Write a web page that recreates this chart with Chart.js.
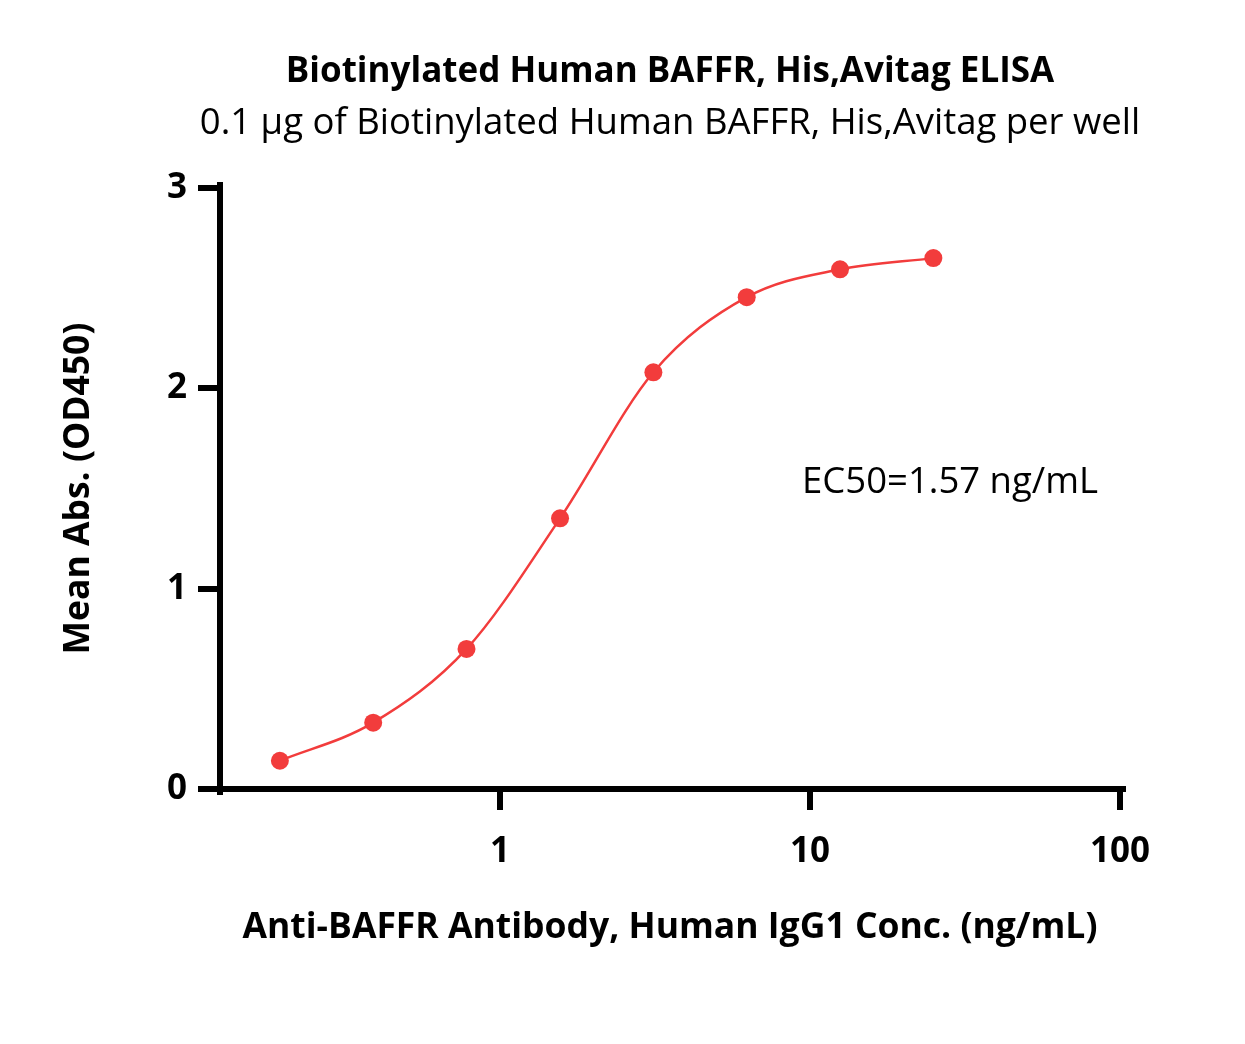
<!DOCTYPE html>
<html>
<head>
<meta charset="utf-8">
<script src="https://cdn.jsdelivr.net/npm/chart.js@4.4.1/dist/chart.umd.min.js"></script>
<style>
  html, body { margin: 0; padding: 0; background: #fff; }
  #wrap { width: 1245px; height: 1044px; }
</style>
</head>
<body>
<div id="wrap"><canvas id="elisaChart" width="1245" height="1044"></canvas></div>
<script>
// data
const concentrations = [0.195, 0.39, 0.78, 1.5625, 3.125, 6.25, 12.5, 25];
const meanAbs = [0.141, 0.331, 0.699, 1.351, 2.080, 2.455, 2.594, 2.650];
const xTicks = [1, 10, 100];
const yTicks = [0, 1, 2, 3];
const subtitleText = '0.1 μg of Biotinylated Human BAFFR, His,Avitag per well';
const ec50Label = 'EC50=1.57 ng/mL';
const ec50LabelAt = [28.3, 1.53]; // in data units (conc, OD)

const red = 'rgb(242, 60, 60)';

Chart.defaults.font.family = "'Open Sans'";
Chart.defaults.color = '#000';

// square caps so the axis lines and tick marks meet in clean corners
const squareCaps = {
  id: 'squareCaps',
  beforeDraw(chart) { chart.ctx.lineCap = 'square'; }
};

// subtitle is wider than the plot area, so the built-in one would squeeze it
const textPlugin = {
  id: 'extraText',
  afterDatasetsDraw(chart) {
    const { ctx, chartArea, scales: { x, y } } = chart;
    ctx.save();
    ctx.fillStyle = '#000';
    ctx.textAlign = 'center';
    ctx.textBaseline = 'middle';
    ctx.font = "36.5px 'Open Sans'";
    ctx.fillText(subtitleText, (chartArea.left + chartArea.right) / 2, chartArea.top - 64.5);
    ctx.fillText(ec50Label, x.getPixelForValue(ec50LabelAt[0]), y.getPixelForValue(ec50LabelAt[1]));
    ctx.restore();
  }
};

const ctx = document.getElementById('elisaChart').getContext('2d');
const chart = new Chart(ctx, {
  type: 'line',
  data: {
    datasets: [{
      data: concentrations.map((c, i) => ({ x: c, y: meanAbs[i] })),
      borderColor: red,
      backgroundColor: red,
      borderWidth: 2.5,
      pointRadius: 9,
      pointBorderWidth: 0,
      pointBackgroundColor: red,
      cubicInterpolationMode: 'monotone',
      fill: false
    }]
  },
  options: {
    responsive: false,
    devicePixelRatio: 1,
    animation: false,
    layout: { padding: { top: 0, right: 125, bottom: 0, left: 0 } },
    plugins: {
      legend: { display: false },
      tooltip: { enabled: false },
      title: {
        display: true,
        fullSize: false,
        text: 'Biotinylated Human BAFFR, His,Avitag ELISA',
        font: { size: 35, weight: 'bold' },
        padding: { top: 51, bottom: 95 }
      }
    },
    scales: {
      x: {
        type: 'logarithmic',
        min: 0.125,
        max: 100,
        afterBuildTicks: (scale) => { scale.ticks = xTicks.map(v => ({ value: v })); },
        afterFit: (scale) => { scale.height = 255; },
        ticks: {
          font: { size: 35, weight: 'bold' },
          padding: 24,
          maxRotation: 0,
          callback: (v) => String(v)
        },
        grid: { drawOnChartArea: false, drawTicks: true, tickLength: 18, lineWidth: 6, color: '#000' },
        border: { display: true, width: 6, color: '#000' },
        title: {
          display: true,
          text: 'Anti-BAFFR Antibody, Human IgG1 Conc. (ng/mL)',
          font: { size: 35.5, weight: 'bold' },
          padding: { top: 0, bottom: 95.3 }
        }
      },
      y: {
        min: 0,
        max: 3,
        afterBuildTicks: (scale) => { scale.ticks = yTicks.map(v => ({ value: v })); },
        afterFit: (scale) => { scale.width = 220; },
        ticks: {
          font: { size: 35, weight: 'bold' },
          padding: 14
        },
        grid: { drawOnChartArea: false, drawTicks: true, tickLength: 19, lineWidth: 6, color: '#000' },
        border: { display: true, width: 6, color: '#000' },
        title: {
          display: true,
          text: 'Mean Abs. (OD450)',
          font: { size: 35.5, weight: 'bold' },
          padding: { top: 58, bottom: 0 }
        }
      }
    }
  },
  plugins: [squareCaps, textPlugin]
});
</script>
</body>
</html>
